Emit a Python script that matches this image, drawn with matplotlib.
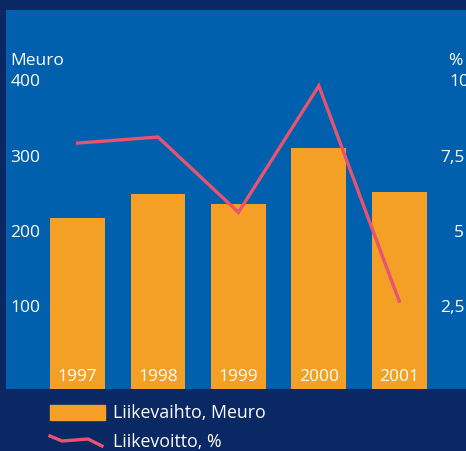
import matplotlib.pyplot as plt
from matplotlib.patches import Rectangle
from matplotlib.lines import Line2D

years = ['1997', '1998', '1999', '2000', '2001']
liikevaihto = [218, 250, 237, 312, 253]   # Meuro
liikevoitto = [7.95, 8.15, 5.65, 9.85, 2.7]  # %
left_ticks = [100, 200, 300, 400]
right_ticks = ['2,5', '5', '7,5', '10']
right_vals = [2.5, 5, 7.5, 10]

bg = '#0a2863'
panel = '#0060ae'
orange = '#f4a027'
pink = '#e8536f'
font = 'Open Sans'

W, H = 466, 452
ymin, ymax = -8.6, 494.7
fig = plt.figure(figsize=(W / 100, H / 100), dpi=100, facecolor=bg)
ax = fig.add_axes([6 / W, 1 - 390 / H, 1 - 6 / W, (390 - 11) / H])
ax.set_facecolor(panel)
for s in ax.spines.values():
    s.set_visible(False)
ax.set_xticks([])
ax.set_yticks([])
ax.set_xlim(-0.89, 4.83)
ax.set_ylim(ymin, ymax)

x = list(range(len(years)))
# bars run down to the panel edge
ax.bar(x, [v - ymin for v in liikevaihto], width=0.68, bottom=ymin,
       color=orange, zorder=2)

ax2 = ax.twinx()
ax2.set_ylim(ymin / 40, ymax / 40)
ax2.axis('off')
ax2.plot(x, liikevoitto, color=pink, lw=2.4, solid_joinstyle='miter', zorder=3)

tr = ax.get_yaxis_transform()
for v in left_ticks:
    ax.text(0.009, v, str(v), transform=tr, color='white', fontsize=12.5,
            family=font, va='center', ha='left')
ax.text(0.009, 428, 'Meuro', transform=tr, color='white', fontsize=12.5,
        family=font, va='center', ha='left')

tr2 = ax2.get_yaxis_transform()
for v, lab in zip(right_vals, right_ticks):
    xr = 1.008 if lab == '10' else 0.996
    ax2.text(xr, v, lab, transform=tr2, color='white', fontsize=12.5,
             family=font, va='center', ha='right', clip_on=False)
ax2.text(0.993, 428 / 40, '%', transform=tr2, color='white', fontsize=12.5,
         family=font, va='center', ha='right')

for xi, yr in zip(x, years):
    ax.text(xi, 8, yr, color='white', fontsize=12.5, family=font,
            ha='center', va='center', zorder=4)

# legend
fig.patches.append(Rectangle((50 / W, 1 - 421 / H), 55 / W, 15 / H,
                             transform=fig.transFigure, color=orange))
fig.text(113 / W, 1 - 413 / H, 'Liikevaihto, Meuro', color='white',
         fontsize=12.8, family=font, va='center', ha='left')
fig.lines.append(Line2D([50 / W, 62 / W, 88 / W, 102 / W],
                        [1 - 437 / H, 1 - 442 / H, 1 - 440 / H, 1 - 447 / H],
                        transform=fig.transFigure, color=pink, lw=2.4))
fig.text(113 / W, 1 - 442 / H, 'Liikevoitto, %', color='white',
         fontsize=12.8, family=font, va='center', ha='left')

fig.savefig('out.png', dpi=100, facecolor=bg)
